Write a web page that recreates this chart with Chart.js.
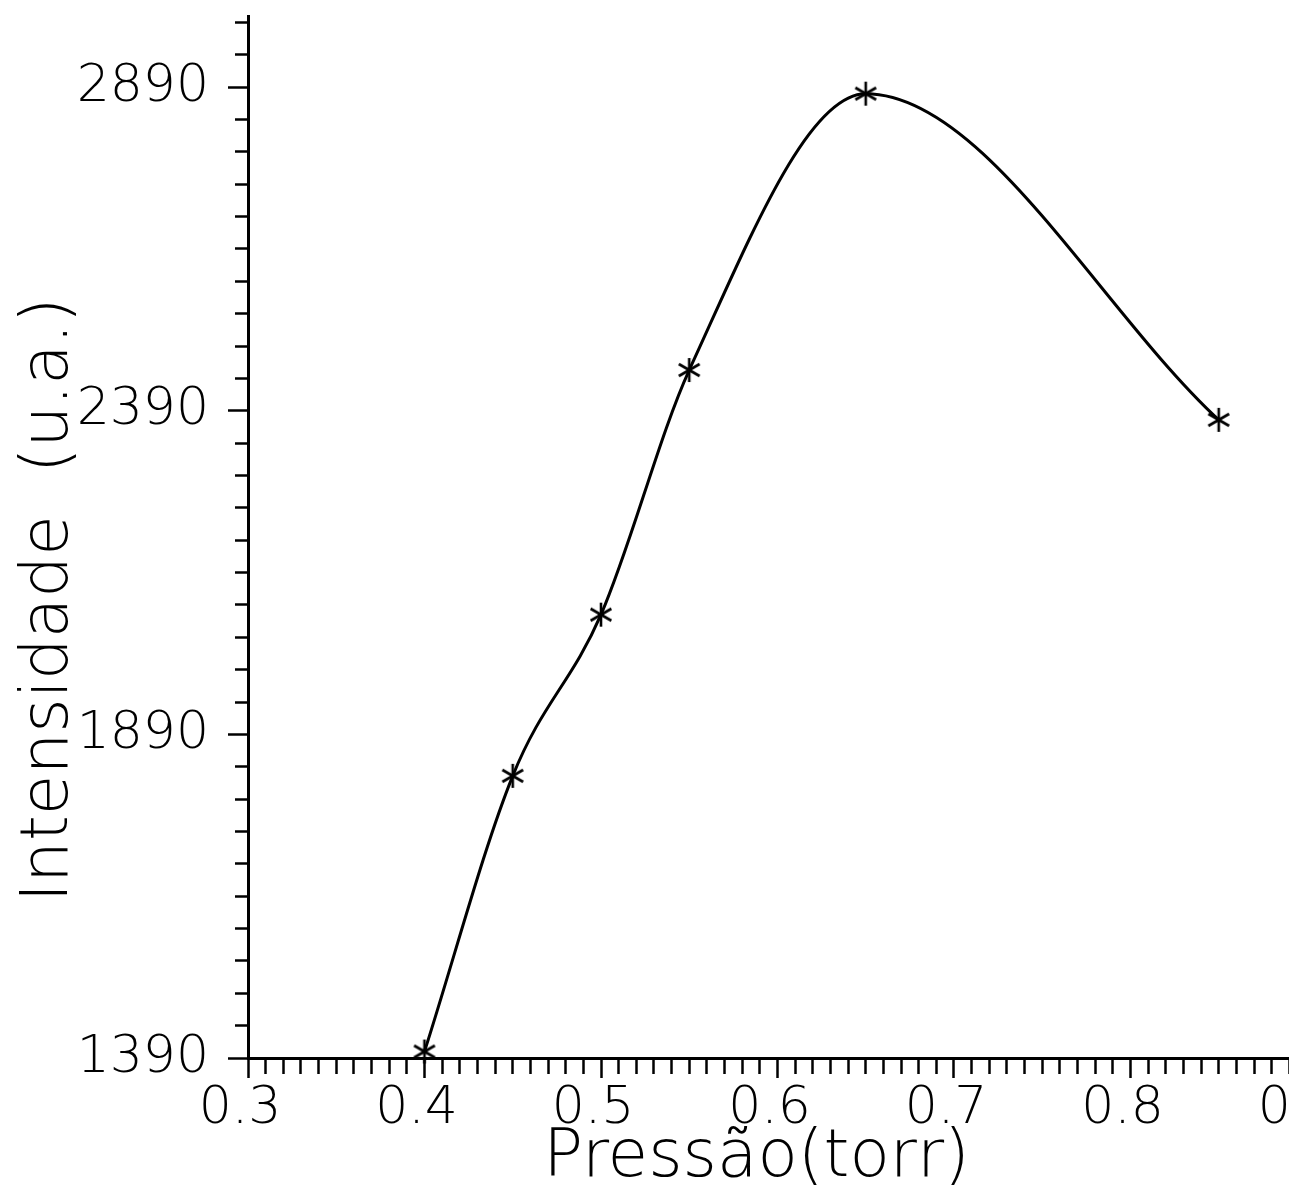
<!DOCTYPE html>
<html>
<head>
<meta charset="utf-8">
<title>Intensidade x Pressão</title>
<script src="https://cdn.jsdelivr.net/npm/chart.js@4.4.1/dist/chart.umd.min.js"></script>
<style>
  html, body { margin: 0; padding: 0; background: #fff; overflow: hidden; }
  .chart-box { position: relative; width: 1347px; height: 1196px; }
</style>
</head>
<body>
<div class="chart-box"><canvas id="pressureChart"></canvas></div>
<script>
// values
const pressure = [0.40, 0.45, 0.50, 0.55, 0.65, 0.85];
const intensity = [1400, 1826, 2075, 2453, 2880, 2376];

// axis ticks
const xTickLabels = ['0.3', '0.4', '0.5', '0.6', '0.7', '0.8', '0.9'];
const yTickLabels = ['1390', '1890', '2390', '2890'];
const xMinorStep = 0.01;
const yMinorStep = 50;
const yMax = 3000;

const FONT = "'DejaVu Sans', 'Liberation Sans', sans-serif";

function isMajor(labels, value) {
    return labels.some(l => Math.abs(Number(l) - value) < 1e-6);
}

function labelFor(labels, value) {
    const hit = labels.find(l => Math.abs(Number(l) - value) < 1e-6);
    return hit || '';
}

function xTicks() {
    const start = Number(xTickLabels[0]);
    const end = Number(xTickLabels[xTickLabels.length - 1]);
    const n = Math.round((end - start) / xMinorStep);
    const out = [];
    for (let i = 0; i <= n; i++) out.push({ value: Math.round((start + i * xMinorStep) * 1000) / 1000 });
    return out;
}

function yTicks() {
    const start = Number(yTickLabels[0]);
    const out = [];
    for (let v = start; v < yMax; v += yMinorStep) out.push({ value: v });
    return out;
}

// 6-armed asterisk used as the point marker
function makeAsterisk(size, width) {
    const c = document.createElement('canvas');
    c.width = size;
    c.height = size;
    const g = c.getContext('2d');
    g.strokeStyle = '#000';
    g.lineWidth = width;
    g.translate(size / 2, size / 2);
    const r = size / 2 - 1;
    [90, 30, 150].forEach(function(a) {
        const rad = a * Math.PI / 180;
        g.beginPath();
        g.moveTo(-r * Math.cos(rad), -r * Math.sin(rad));
        g.lineTo(r * Math.cos(rad), r * Math.sin(rad));
        g.stroke();
    });
    return c;
}

document.addEventListener('DOMContentLoaded', function() {
    const ctx = document.getElementById('pressureChart').getContext('2d');
    const star = makeAsterisk(26, 2.6);

    new Chart(ctx, {
        type: 'scatter',
        data: {
            datasets: [{
                data: pressure.map((p, i) => ({ x: p, y: intensity[i] })),
                showLine: true,
                borderColor: '#000',
                borderWidth: 3,
                cubicInterpolationMode: 'monotone',
                pointStyle: star,
                pointRadius: 13,
                pointHoverRadius: 13,
                clip: false
            }]
        },
        options: {
            responsive: true,
            maintainAspectRatio: false,
            animation: false,
            layout: {
                padding: { top: 16, right: 40, left: 0, bottom: 0 }
            },
            plugins: {
                legend: { display: false },
                tooltip: { enabled: false }
            },
            scales: {
                x: {
                    type: 'linear',
                    min: Number(xTickLabels[0]),
                    max: Number(xTickLabels[xTickLabels.length - 1]),
                    afterBuildTicks: function(scale) { scale.ticks = xTicks(); },
                    afterFit: function(scale) {
                        scale.height = 138;
                        scale.paddingLeft = 0;
                        scale.paddingRight = 0;
                    },
                    border: { color: '#000', width: 3 },
                    grid: {
                        drawOnChartArea: false,
                        tickLength: 20,
                        tickWidth: 2.5,
                        tickColor: '#000',
                        tickBorderDash: c => isMajor(xTickLabels, c.tick.value) ? [] : [14, 40]
                    },
                    ticks: {
                        autoSkip: false,
                        maxRotation: 0,
                        padding: 0,
                        labelOffset: -8,
                        color: '#000',
                        font: { family: FONT, size: 52, weight: 200 },
                        callback: v => labelFor(xTickLabels, v)
                    },
                    title: {
                        display: true,
                        text: 'Pressão(torr)  ',
                        color: '#000',
                        font: { family: FONT, size: 66, weight: 200, lineHeight: 1 },
                        padding: { top: 0, bottom: 4 }
                    }
                },
                y: {
                    type: 'linear',
                    min: Number(yTickLabels[0]),
                    max: yMax,
                    afterBuildTicks: function(scale) { scale.ticks = yTicks(); },
                    afterFit: function(scale) {
                        scale.width = 248;
                        scale.paddingTop = 0;
                        scale.paddingBottom = 0;
                    },
                    border: { color: '#000', width: 3 },
                    grid: {
                        drawOnChartArea: false,
                        tickLength: 20,
                        tickWidth: 2.5,
                        tickColor: '#000',
                        tickBorderDash: c => isMajor(yTickLabels, c.tick.value) ? [] : [13, 50],
                        tickBorderDashOffset: c => isMajor(yTickLabels, c.tick.value) ? 0 : 56
                    },
                    ticks: {
                        autoSkip: false,
                        padding: 19,
                        color: '#000',
                        font: { family: FONT, size: 52, weight: 200 },
                        callback: v => labelFor(yTickLabels, v)
                    },
                    title: {
                        display: true,
                        text: 'Intensidade  (u.a.)      ',
                        color: '#000',
                        font: { family: FONT, size: 66, weight: 200, lineHeight: 1 },
                        padding: { top: 17, bottom: 0 }
                    }
                }
            }
        }
    });
});
</script>
</body>
</html>
